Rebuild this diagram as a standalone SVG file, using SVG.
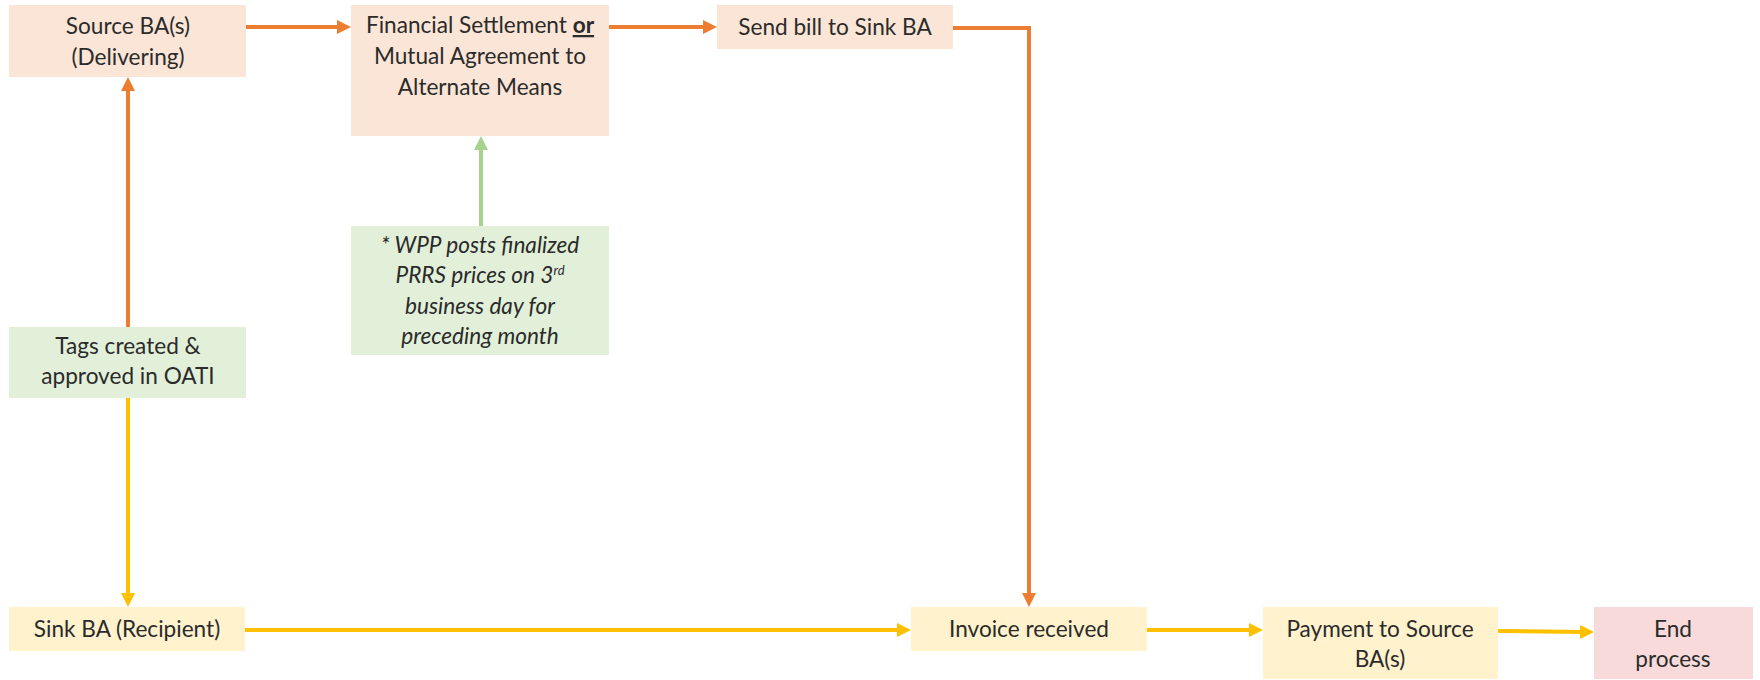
<svg xmlns="http://www.w3.org/2000/svg" width="1760" height="680" viewBox="0 0 1760 680">
<defs>
<style>
.t{font-family:Lato,"Liberation Sans",sans-serif;font-size:22.6px;fill:#2b2b2b;text-anchor:middle}
.i{font-style:italic}
.peach{fill:#FBE5D6}
.green{fill:#E2F0D9}
.yellow{fill:#FFF2CC}
.pink{fill:#F8DADA}
.c{fill:none;stroke-width:4}
.o{stroke:#ED7D31}
.y{stroke:#FFC000}
.g{stroke:#A9D18E}
</style>
<marker id="ao" markerUnits="userSpaceOnUse" markerWidth="14" markerHeight="14" refX="4" refY="7" orient="auto"><path d="M0,0 L14,7 L0,14 z" fill="#ED7D31"/></marker>
<marker id="ay" markerUnits="userSpaceOnUse" markerWidth="14" markerHeight="14" refX="4" refY="7" orient="auto"><path d="M0,0 L14,7 L0,14 z" fill="#FFC000"/></marker>
<marker id="ag" markerUnits="userSpaceOnUse" markerWidth="14" markerHeight="14" refX="4" refY="7" orient="auto"><path d="M0,0 L14,7 L0,14 z" fill="#A9D18E"/></marker>
</defs>
<rect width="1760" height="680" fill="#fff"/>
<g id="connectors">
<path class="c o" d="M246,27 L341,27" marker-end="url(#ao)"/>
<path class="c o" d="M609,27 L707,27" marker-end="url(#ao)"/>
<path class="c o" d="M953,28 L1029,28 L1029,597" marker-end="url(#ao)"/>
<path class="c o" d="M128,327 L128,87" marker-end="url(#ao)"/>
<path class="c y" d="M128,398 L128,597" marker-end="url(#ay)"/>
<path class="c g" d="M481,226 L481,146" marker-end="url(#ag)"/>
<path class="c y" d="M245,630 L901,630" marker-end="url(#ay)"/>
<path class="c y" d="M1147,630 L1253,630" marker-end="url(#ay)"/>
<path class="c y" d="M1498,631 L1584,632" marker-end="url(#ay)"/>
</g>
<g id="source-ba">
<rect class="peach" x="9" y="5" width="237" height="72"/>
<text class="t" x="128" y="34">Source BA(s)</text>
<text class="t" x="128" y="65">(Delivering)</text>
</g>
<g id="financial-settlement">
<rect class="peach" x="351" y="5" width="258" height="131"/>
<text class="t" x="480" y="33">Financial Settlement <tspan font-weight="bold" text-decoration="underline">or</tspan></text>
<text class="t" x="480" y="64">Mutual Agreement to</text>
<text class="t" x="480" y="95">Alternate Means</text>
</g>
<g id="send-bill">
<rect class="peach" x="717" y="5" width="236" height="44"/>
<text class="t" x="835" y="35">Send bill to Sink BA</text>
</g>
<g id="wpp-posts">
<rect class="green" x="351" y="226" width="258" height="129"/>
<text class="t i" x="480" y="253">* WPP posts finalized</text>
<text class="t i" x="480" y="283">PRRS prices on 3<tspan font-size="13" dy="-8">rd</tspan></text>
<text class="t i" x="480" y="314">business day for</text>
<text class="t i" x="480" y="344">preceding month</text>
</g>
<g id="tags-created">
<rect class="green" x="9" y="327" width="237" height="71"/>
<text class="t" x="128" y="354">Tags created &amp;</text>
<text class="t" x="128" y="384">approved in OATI</text>
</g>
<g id="sink-ba">
<rect class="yellow" x="9" y="607" width="236" height="44"/>
<text class="t" x="127" y="637">Sink BA (Recipient)</text>
</g>
<g id="invoice-received">
<rect class="yellow" x="911" y="607" width="236" height="44"/>
<text class="t" x="1029" y="637">Invoice received</text>
</g>
<g id="payment">
<rect class="yellow" x="1263" y="607" width="235" height="72"/>
<text class="t" x="1380" y="637">Payment to Source</text>
<text class="t" x="1380" y="667">BA(s)</text>
</g>
<g id="end-process">
<rect class="pink" x="1594" y="607" width="159" height="72"/>
<text class="t" x="1673" y="637">End</text>
<text class="t" x="1673" y="667">process</text>
</g>
</svg>
